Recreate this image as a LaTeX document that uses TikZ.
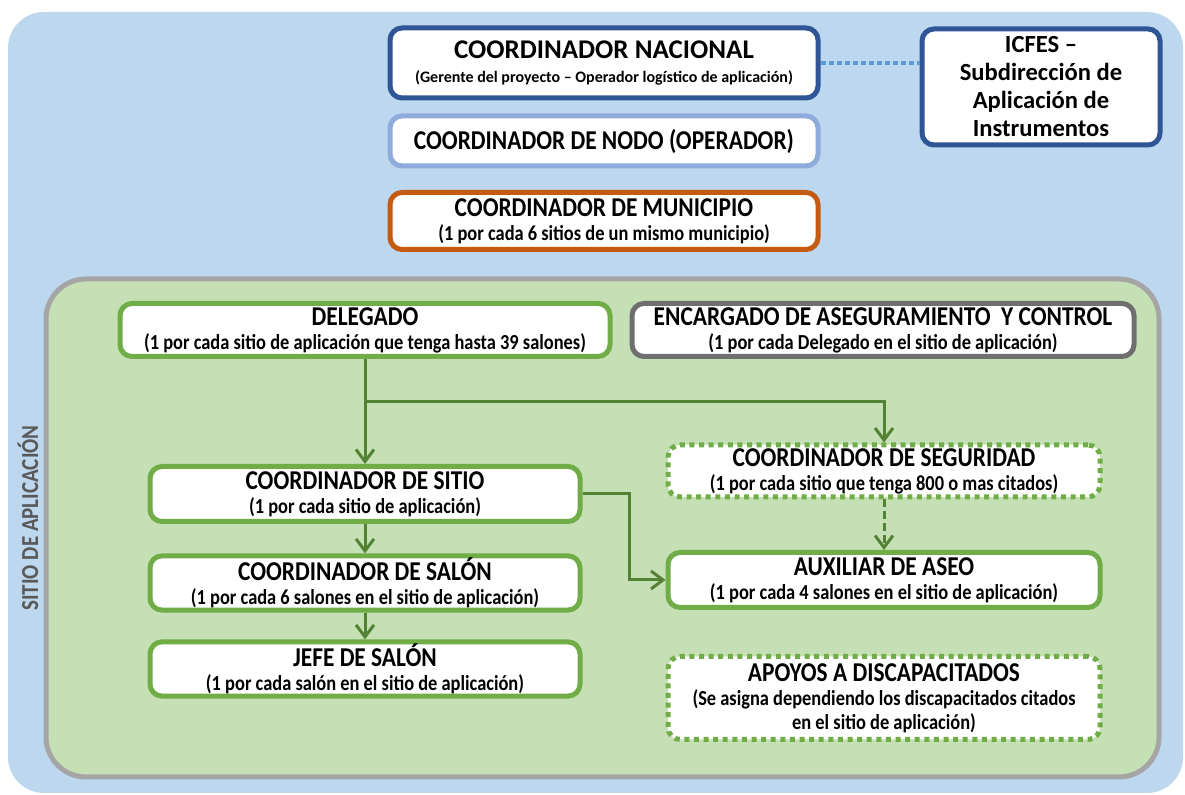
\documentclass[tikz,border=0pt]{standalone}
\usepackage{fontspec}
\setmainfont{Carlito}
\newfontfamily\estrecha{Carlito}[FakeStretch=0.86]
\usetikzlibrary{arrows.meta}

\definecolor{fondo}{HTML}{BDD7EE}
\definecolor{sitiofill}{HTML}{C5E0B4}
\definecolor{sitioline}{HTML}{A5A5A5}
\definecolor{azul}{HTML}{2F5597}
\definecolor{azulclaro}{HTML}{8FAADC}
\definecolor{naranja}{HTML}{C55A11}
\definecolor{verde}{HTML}{70AD47}
\definecolor{verdeosc}{HTML}{548235}
\definecolor{gris}{HTML}{6F6F6F}
\definecolor{punteado}{HTML}{5B9BD5}
\newcommand{\detalle}{\bfseries\fontsize{10.7}{11.5}\selectfont}

\begin{document}
\begin{tikzpicture}[x=0.5pt,y=-0.5pt,
	cargo/.style={draw,rectangle,align=center,fill=white,line width=2.5pt,rounded corners=6pt,inner sep=1pt,font=\estrecha\bfseries\fontsize{13.6}{12}\selectfont},
	opcional/.style={cargo,dash pattern=on 2.5pt off 2.3pt},
	trans/.style={draw=verdeosc,line width=1.5pt,-{Straight Barb[length=6pt,width=9pt]}}]
\useasboundingbox (0,0) rectangle (1185,795);
\fill[fondo,rounded corners=18pt] (8,12) rectangle (1183,793);
\draw[sitioline,fill=sitiofill,line width=2.5pt,rounded corners=20pt] (46,279) rectangle (1159,777);
\node[rotate=90,text=black!65,font=\estrecha\bfseries\fontsize{12.2}{15}\selectfont](lugar) at (28,518)
	{SITIO DE APLICACIÓN};

\node[cargo,draw=azul,minimum width=214pt,minimum height=35pt,font=\bfseries\fontsize{13.5}{12}\selectfont](nac) at (604,63)
	{COORDINADOR NACIONAL\\ \fontsize{8}{12}\selectfont (Gerente del proyecto – Operador logístico de aplicación)};
\node[cargo,draw=azul,minimum width=119pt,minimum height=58pt,font=\bfseries\fontsize{12.3}{14}\selectfont](icfes) at (1041,87)
	{ICFES –\\ Subdirección de\\ Aplicación de\\ Instrumentos};
\node[cargo,draw=azulclaro,minimum width=214pt,minimum height=25pt](nodo) at (604,141)
	{COORDINADOR DE NODO (OPERADOR)};
\node[cargo,draw=naranja,minimum width=214pt,minimum height=28.5pt](muni) at (604,221)
	{COORDINADOR DE MUNICIPIO\\ \detalle (1 por cada 6 sitios de un mismo municipio)};

\node[cargo,draw=verde,minimum width=245pt,minimum height=26.5pt](del) at (365,330)
	{DELEGADO\\ \detalle (1 por cada sitio de aplicación que tenga hasta 39 salones)};
\node[cargo,draw=gris,minimum width=251pt,minimum height=26.5pt](enc) at (883,330)
	{ENCARGADO DE ASEGURAMIENTO\ \ Y CONTROL\\ \detalle (1 por cada Delegado en el sitio de aplicación)};
\node[cargo,draw=verde,minimum width=215pt,minimum height=27.5pt](sitio) at (365,494)
	{COORDINADOR DE SITIO\\ \detalle (1 por cada sitio de aplicación)};
\node[opcional,draw=verde,minimum width=216pt,minimum height=26pt](seg) at (884,471)
	{COORDINADOR DE SEGURIDAD\\ \detalle (1 por cada sitio que tenga 800 o mas citados)};
\node[cargo,draw=verde,minimum width=215pt,minimum height=26.5pt](salon) at (365,583)
	{COORDINADOR DE SALÓN\\ \detalle (1 por cada 6 salones en el sitio de aplicación)};
\node[cargo,draw=verde,minimum width=216pt,minimum height=27.5pt](aseo) at (884,580)
	{AUXILIAR DE ASEO\\ \detalle (1 por cada 4 salones en el sitio de aplicación)};
\node[cargo,draw=verde,minimum width=215pt,minimum height=26.5pt](jefe) at (365,669)
	{JEFE DE SALÓN\\ \detalle (1 por cada salón en el sitio de aplicación)};
\node[opcional,draw=verde,minimum width=216pt,minimum height=41.5pt](apoyo) at (884,698)
	{APOYOS A DISCAPACITADOS\\ \detalle (Se asigna dependiendo los discapacitados citados\\ \detalle en el sitio de aplicación)};

\draw[punteado,line width=2pt,dash pattern=on 2.5pt off 1.5pt] (nac.east) -- (icfes.west |- nac.east);
\draw[trans] (del) -- (sitio);
\draw[trans] (del.south |- 0,402) -| (seg.north);
\draw[trans] (sitio.east) -- ++(47,0) |- (aseo.west);
\draw[trans,dash pattern=on 4pt off 2pt] (seg) -- (aseo);
\draw[trans] (sitio) -- (salon);
\draw[trans] (salon) -- (jefe);
\end{tikzpicture}
\end{document}
